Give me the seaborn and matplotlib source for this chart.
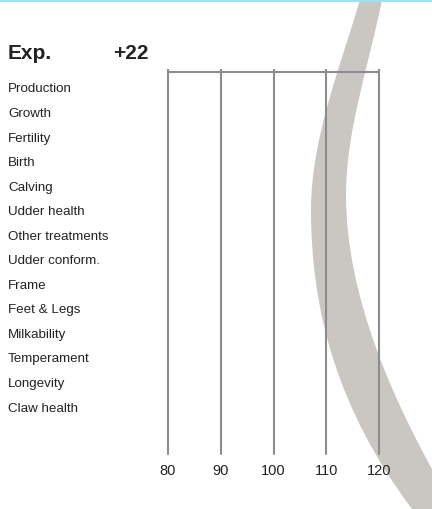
import pandas as pd
import seaborn as sns
import matplotlib.pyplot as plt
from matplotlib.path import Path
from matplotlib.patches import PathPatch

categories = ["Production", "Growth", "Fertility", "Birth", "Calving", "Udder health",
              "Other treatments", "Udder conform.", "Frame", "Feet & Legs", "Milkability",
              "Temperament", "Longevity", "Claw health"]
values = [0] * len(categories)  # no bars shown in the reference
ticks = [80, 90, 100, 110, 120]
header_left = "Exp."
header_right = "+22"

sns.set_style("white")
plt.rcParams['font.family'] = ['Liberation Sans', 'DejaVu Sans']

W, H = 432, 509
fig = plt.figure(figsize=(W / 100, H / 100), dpi=100)

# background layer: swoosh + blue line on top (figure pixel coords)
bg = fig.add_axes([0, 0, 1, 1], zorder=0)
bg.set_xlim(0, W)
bg.set_ylim(H, 0)
bg.axis('off')

verts = [(360, 0), (339, 70), (311, 140), (311, 210),
         (311, 310), (337, 409), (412, 509),
         (455, 509),
         (392, 404), (346, 295), (346, 195),
         (346, 130), (369, 65), (382, 0),
         (360, 0)]
codes = [Path.MOVETO, Path.CURVE4, Path.CURVE4, Path.CURVE4,
         Path.CURVE4, Path.CURVE4, Path.CURVE4,
         Path.LINETO,
         Path.CURVE4, Path.CURVE4, Path.CURVE4,
         Path.CURVE4, Path.CURVE4, Path.CURVE4,
         Path.CLOSEPOLY]
bg.add_patch(PathPatch(Path(verts, codes), facecolor='#cac7c3', edgecolor='none'))
bg.plot([0, W], [1, 1], color='#a9dcef', linewidth=1.6, solid_capstyle='butt')

# main chart
left, right, top, bottom = 168, 379, 72, 454
ax = fig.add_axes([left / W, 1 - bottom / H, (right - left) / W, (bottom - top) / H], zorder=1)
ax.patch.set_alpha(0)

df = pd.DataFrame({'trait': categories, 'value': values})
sns.barplot(data=df, x='value', y='trait', orient='h', color='#8c8c90', ax=ax)

step = (407 - 88) / 13
ax.set_ylim((bottom - 88) / step, (top - 88) / step)
ax.set_xlim(ticks[0], ticks[-1])
ax.set_xticks(ticks)
ax.set_xlabel('')
ax.set_ylabel('')

line_col = '#8c8c90'
ax.grid(axis='x', color=line_col, linewidth=1.5)
ax.grid(axis='y', visible=False)
for gl in ax.get_xgridlines():
    gl.set_clip_on(False)
for s in ['left', 'right', 'bottom']:
    ax.spines[s].set_visible(False)
ax.spines['top'].set_visible(True)
ax.spines['top'].set_color(line_col)
ax.spines['top'].set_linewidth(1.5)

ax.tick_params(axis='x', top=True, bottom=False, labeltop=False, labelbottom=True,
               direction='out', length=2.5, width=1.5, color=line_col, pad=5,
               labelsize=10.5, labelcolor='#222222')
ax.tick_params(axis='y', length=0, pad=(left - 8) * 0.72, labelsize=9.6, labelcolor='#222222')
for lab in ax.get_yticklabels():
    lab.set_horizontalalignment('left')

fig.text(8 / W, 1 - 59 / H, header_left, fontsize=15, fontweight='bold', color='#222222', va='baseline')
fig.text(113 / W, 1 - 59 / H, header_right, fontsize=15, fontweight='bold', color='#222222', va='baseline')

fig.savefig('out.png', dpi=100)
